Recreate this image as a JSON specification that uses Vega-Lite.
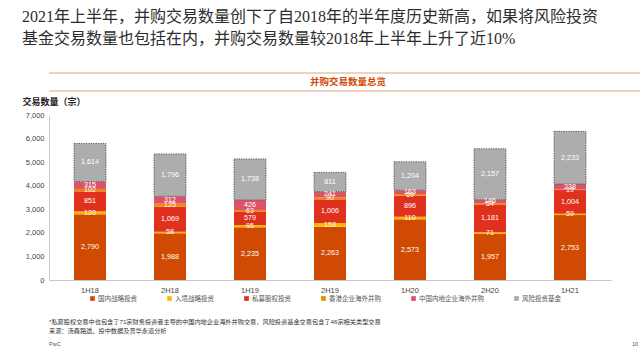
{
  "$schema": "https://vega.github.io/schema/vega-lite/v6.json",
  "background": "white",
  "padding": {"left": 22, "top": 8, "right": 10, "bottom": 0},
  "config": {
    "font": "Liberation Sans, Noto Sans CJK SC",
    "view": {"stroke": null}
  },
  "title": {
    "text": ["2021年上半年，并购交易数量创下了自2018年的半年度历史新高，如果将风险投资", "基金交易数量也包括在内，并购交易数量较2018年上半年上升了近10%"],
    "anchor": "start",
    "font": "Liberation Serif, Noto Sans CJK SC",
    "fontSize": 16,
    "fontWeight": "normal",
    "lineHeight": 22,
    "color": "#2D2D2D",
    "offset": 26
  },
  "spacing": 5,
  "vconcat": [
    {
      "width": 598,
      "height": 18,
      "data": {"values": [{}]},
      "layer": [
        {
          "mark": {"type": "rule", "color": "#E2A47C", "strokeWidth": 1},
          "encoding": {"y": {"datum": 0, "type": "quantitative", "scale": {"domain": [0, 1]}, "axis": null}}
        },
        {
          "mark": {"type": "rule", "color": "#E2A47C", "strokeWidth": 1},
          "encoding": {"y": {"datum": 1, "type": "quantitative", "scale": {"domain": [0, 1]}, "axis": null}}
        },
        {
          "mark": {"type": "text", "text": "并购交易数量总览", "color": "#D04A02", "fontWeight": "bold", "fontSize": 9.5, "baseline": "middle", "align": "center"},
          "encoding": {
            "x": {"datum": 0.5, "type": "quantitative", "scale": {"domain": [0, 1]}, "axis": null},
            "y": {"datum": 0.5, "type": "quantitative", "scale": {"domain": [0, 1]}, "axis": null}
          }
        }
      ]
    },
    {
      "width": 562,
      "height": 165,
      "data": {
        "values": [
          {"period": "1H18", "type": "国内战略投资", "k": 1, "count": 2790},
          {"period": "1H18", "type": "入境战略投资", "k": 2, "count": 120},
          {"period": "1H18", "type": "私募股权投资", "k": 3, "count": 851},
          {"period": "1H18", "type": "香港企业海外并购", "k": 4, "count": 102},
          {"period": "1H18", "type": "中国内地企业海外并购", "k": 5, "count": 315},
          {"period": "1H18", "type": "风险投资基金", "k": 6, "count": 1614},
          {"period": "2H18", "type": "国内战略投资", "k": 1, "count": 1988},
          {"period": "2H18", "type": "入境战略投资", "k": 2, "count": 58},
          {"period": "2H18", "type": "私募股权投资", "k": 3, "count": 1069},
          {"period": "2H18", "type": "香港企业海外并购", "k": 4, "count": 125},
          {"period": "2H18", "type": "中国内地企业海外并购", "k": 5, "count": 312},
          {"period": "2H18", "type": "风险投资基金", "k": 6, "count": 1796},
          {"period": "1H19", "type": "国内战略投资", "k": 1, "count": 2235},
          {"period": "1H19", "type": "入境战略投资", "k": 2, "count": 95},
          {"period": "1H19", "type": "私募股权投资", "k": 3, "count": 579},
          {"period": "1H19", "type": "香港企业海外并购", "k": 4, "count": 63},
          {"period": "1H19", "type": "中国内地企业海外并购", "k": 5, "count": 426},
          {"period": "1H19", "type": "风险投资基金", "k": 6, "count": 1738},
          {"period": "2H19", "type": "国内战略投资", "k": 1, "count": 2263},
          {"period": "2H19", "type": "入境战略投资", "k": 2, "count": 153},
          {"period": "2H19", "type": "私募股权投资", "k": 3, "count": 1006},
          {"period": "2H19", "type": "香港企业海外并购", "k": 4, "count": 90},
          {"period": "2H19", "type": "中国内地企业海外并购", "k": 5, "count": 241},
          {"period": "2H19", "type": "风险投资基金", "k": 6, "count": 811},
          {"period": "1H20", "type": "国内战略投资", "k": 1, "count": 2573},
          {"period": "1H20", "type": "入境战略投资", "k": 2, "count": 110},
          {"period": "1H20", "type": "私募股权投资", "k": 3, "count": 896},
          {"period": "1H20", "type": "香港企业海外并购", "k": 4, "count": 69},
          {"period": "1H20", "type": "中国内地企业海外并购", "k": 5, "count": 163},
          {"period": "1H20", "type": "风险投资基金", "k": 6, "count": 1204},
          {"period": "2H20", "type": "国内战略投资", "k": 1, "count": 1957},
          {"period": "2H20", "type": "入境战略投资", "k": 2, "count": 71},
          {"period": "2H20", "type": "私募股权投资", "k": 3, "count": 1181},
          {"period": "2H20", "type": "香港企业海外并购", "k": 4, "count": 54},
          {"period": "2H20", "type": "中国内地企业海外并购", "k": 5, "count": 146},
          {"period": "2H20", "type": "风险投资基金", "k": 6, "count": 2157},
          {"period": "1H21", "type": "国内战略投资", "k": 1, "count": 2753},
          {"period": "1H21", "type": "入境战略投资", "k": 2, "count": 59},
          {"period": "1H21", "type": "私募股权投资", "k": 3, "count": 1004},
          {"period": "1H21", "type": "香港企业海外并购", "k": 4, "count": 19},
          {"period": "1H21", "type": "中国内地企业海外并购", "k": 5, "count": 238},
          {"period": "1H21", "type": "风险投资基金", "k": 6, "count": 2233}
        ]
      },
      "transform": [
        {"stack": "count", "groupby": ["period"], "sort": [{"field": "k", "order": "ascending"}], "as": ["y0", "y1"]},
        {"calculate": "(datum.y0 + datum.y1) / 2", "as": "ymid"}
      ],
      "encoding": {
        "x": {
          "field": "period",
          "type": "nominal",
          "sort": ["1H18", "2H18", "1H19", "2H19", "1H20", "2H20", "1H21"],
          "scale": {"paddingInner": 0.6, "paddingOuter": 0.3125},
          "axis": {"title": null, "labelAngle": 0, "ticks": false, "domainColor": "#C8C8C8", "labelFontSize": 7.5, "labelColor": "#444444", "labelPadding": 6}
        },
        "y": {
          "field": "y0",
          "type": "quantitative",
          "scale": {"domain": [0, 7000]},
          "axis": {
            "title": "交易数量（宗）",
            "titleAngle": 0,
            "titleAlign": "left",
            "titleBaseline": "middle",
            "titleX": -27,
            "titleY": -14,
            "titleFontSize": 9,
            "titleFontWeight": "bold",
            "titleColor": "#222222",
            "values": [0, 1000, 2000, 3000, 4000, 5000, 6000, 7000],
            "format": ",d",
            "grid": false,
            "ticks": false,
            "domainColor": "#C8C8C8",
            "labelFontSize": 7.5,
            "labelColor": "#444444",
            "labelPadding": 5
          }
        },
        "y2": {"field": "y1"}
      },
      "layer": [
        {
          "mark": {"type": "bar"},
          "encoding": {
            "color": {
              "field": "type",
              "type": "nominal",
              "scale": {
                "domain": ["国内战略投资", "入境战略投资", "私募股权投资", "香港企业海外并购", "中国内地企业海外并购", "风险投资基金"],
                "range": ["#D04A02", "#FFB600", "#E0301E", "#EB8C00", "#DB536A", "#ADADAD"]
              },
              "legend": {
                "title": null,
                "orient": "none",
                "direction": "horizontal",
                "legendX": 40,
                "legendY": 222,
                "symbolType": "square",
                "symbolSize": 22,
                "labelFontSize": 6.5,
                "labelColor": "#555555",
                "labelOffset": 2,
                "columnPadding": 29
              }
            }
          }
        },
        {
          "transform": [{"filter": "datum.k == 6"}],
          "mark": {"type": "bar", "fillOpacity": 0, "stroke": "#5A5A5A", "strokeWidth": 1, "strokeDash": [1.2, 1.2]}
        },
        {
          "mark": {"type": "text", "color": "white", "fontSize": 7.2, "baseline": "middle", "align": "center"},
          "encoding": {
            "y": {
              "field": "ymid",
              "type": "quantitative",
              "axis": {
                "title": "交易数量（宗）",
                "titleAngle": 0,
                "titleAlign": "left",
                "titleBaseline": "middle",
                "titleX": -27,
                "titleY": -14,
                "titleFontSize": 9,
                "titleFontWeight": "bold",
                "titleColor": "#222222",
                "values": [0, 1000, 2000, 3000, 4000, 5000, 6000, 7000],
                "format": ",d",
                "grid": false,
                "ticks": false,
                "domainColor": "#C8C8C8",
                "labelFontSize": 7.5,
                "labelColor": "#444444",
                "labelPadding": 5
              }
            },
            "y2": null,
            "text": {"field": "count", "type": "quantitative", "format": ","}
          }
        }
      ]
    },
    {
      "width": 598,
      "height": 47,
      "data": {"values": [{}]},
      "layer": [
        {
          "mark": {"type": "text", "text": "*私募股权交易中也包含了71宗财务投资者主导的中国内地企业海外并购交易，风险投资基金交易包含了46宗相关类型交易", "fontSize": 6.2, "color": "#333333", "align": "left", "baseline": "middle"},
          "encoding": {
            "x": {"datum": 0, "type": "quantitative", "scale": {"domain": [0, 1]}, "axis": null},
            "y": {"datum": 23, "type": "quantitative", "scale": {"domain": [0, 47], "reverse": true}, "axis": null}
          }
        },
        {
          "mark": {"type": "text", "text": "来源：汤森路透、投中数据及普华永道分析", "fontSize": 6.2, "color": "#333333", "align": "left", "baseline": "middle"},
          "encoding": {
            "x": {"datum": 0, "type": "quantitative", "scale": {"domain": [0, 1]}, "axis": null},
            "y": {"datum": 31.5, "type": "quantitative", "scale": {"domain": [0, 47], "reverse": true}, "axis": null}
          }
        },
        {
          "mark": {"type": "text", "text": "PwC", "fontSize": 5.5, "color": "#555555", "align": "left", "baseline": "middle"},
          "encoding": {
            "x": {"datum": 0, "type": "quantitative", "scale": {"domain": [0, 1]}, "axis": null},
            "y": {"datum": 45, "type": "quantitative", "scale": {"domain": [0, 47], "reverse": true}, "axis": null}
          }
        },
        {
          "mark": {"type": "text", "text": "10", "fontSize": 5.5, "color": "#555555", "align": "right", "baseline": "middle"},
          "encoding": {
            "x": {"datum": 0.985, "type": "quantitative", "scale": {"domain": [0, 1]}, "axis": null},
            "y": {"datum": 45, "type": "quantitative", "scale": {"domain": [0, 47], "reverse": true}, "axis": null}
          }
        }
      ]
    }
  ]
}
